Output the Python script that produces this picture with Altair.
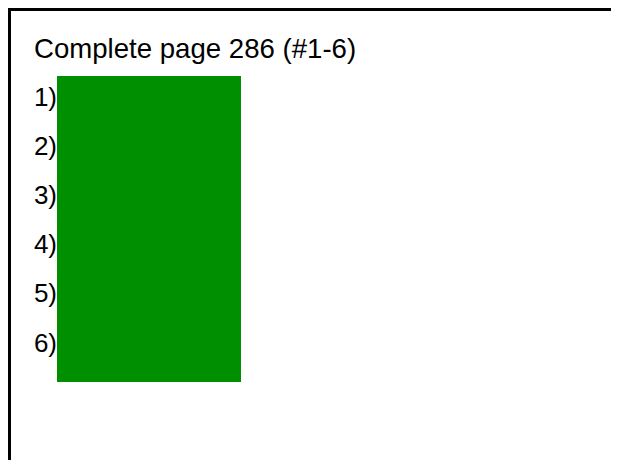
import altair as alt
import pandas as pd

# ---- content ----
title_text = "Complete page 286 (#1-6)"
problem_rows = [1, 2, 3, 4, 5, 6]
problem_labels = ["1)", "2)", "3)", "4)", "5)", "6)"]
# the green answer-cover box spans these row positions
box_top_row = [0.4]
box_bottom_row = [6.62]

labels_df = pd.DataFrame({"row": problem_rows, "label": problem_labels})
box_df = pd.DataFrame({"top": box_top_row, "bottom": box_bottom_row})
title_df = pd.DataFrame({"t": [title_text]})

W, H = 603, 452
FONT = "Liberation Sans"
row_scale = alt.Scale(domain=[1, 6], range=[97.5, 343.5])

frame_left = alt.Chart(title_df).mark_rule(color="black", strokeWidth=3).encode(
    x=alt.value(1.5), y=alt.value(0), y2=alt.value(H)
)
frame_top = alt.Chart(title_df).mark_rule(color="black", strokeWidth=3).encode(
    y=alt.value(1.5), x=alt.value(0), x2=alt.value(W)
)

title = alt.Chart(title_df).mark_text(
    align="left", baseline="alphabetic", fontSize=27.6, font=FONT, color="black"
).encode(x=alt.value(26), y=alt.value(50), text="t:N")

box = alt.Chart(box_df).mark_rect(color="#008f00").encode(
    x=alt.value(49),
    x2=alt.value(233),
    y=alt.Y("top:Q", scale=row_scale, axis=None),
    y2="bottom:Q",
)

labels = alt.Chart(labels_df).mark_text(
    align="right", baseline="alphabetic", fontSize=26, font=FONT, color="black"
).encode(
    x=alt.value(49),
    y=alt.Y("row:Q", scale=row_scale, axis=None),
    text="label:N",
)

chart = alt.layer(frame_left, frame_top, title, box, labels).properties(
    width=W, height=H, autosize="none", padding=0
).configure_view(stroke=None)

chart.save("out.html", embed_options={"renderer": "svg", "actions": False})
